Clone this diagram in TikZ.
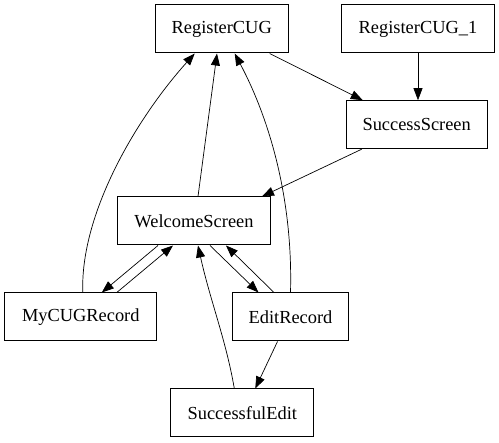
\documentclass[tikz,border=0pt]{standalone}
\usepackage{fontspec}
\setmainfont{Liberation Serif}
\usetikzlibrary{arrows.meta}

\begin{document}
\begin{tikzpicture}[x=1pt, y=-1pt,
        state/.style={draw, line width=1pt, minimum height=48pt, inner xsep=4pt,
            font=\fontsize{18.4}{22}\selectfont},
        edge/.style={line width=0.7pt, -{Triangle[length=12pt, width=9pt]}}]
        \useasboundingbox (0,0) rectangle (499,443);

        \node[state, minimum width=133pt] (reg) at (221.7,29) {RegisterCUG};
        \node[state, minimum width=153pt] (reg1) at (418,29) {RegisterCUG\_1};
        \node[state, minimum width=141pt] (succ) at (416.7,124.7) {SuccessScreen};
        \node[state, minimum width=153pt] (welcome) at (194,221) {WelcomeScreen};
        \node[state, minimum width=152pt] (mycug) at (80.8,317) {MyCUGRecord};
        \node[state, minimum width=116pt] (edit) at (290.5,317) {EditRecord};
        \node[state, minimum width=143pt] (sedit) at (242.3,413) {SuccessfulEdit};

        % top part
        \draw[edge] ([xshift=48pt]reg.south) -- ([xshift=-54pt]succ.north);
        \draw[edge] (reg1.south) -- (reg1.south |- succ.north);
        \draw[edge] ([xshift=-55pt]succ.south) -- ([xshift=68pt]welcome.north);
        \draw[edge] ([xshift=4pt]welcome.north) -- ([xshift=-4.7pt]reg.south);
        \draw[edge] ([xshift=2pt]mycug.north) .. controls (80,215) and (135,120) .. ([xshift=-27pt]reg.south);
        \draw[edge] (edit.north) .. controls (293,200) and (270,120) .. ([xshift=13pt]reg.south);

        % around the welcome screen
        \draw[edge] ([xshift=36pt]mycug.north) -- ([xshift=-21pt]welcome.south);
        \draw[edge] ([xshift=-36pt]welcome.south) -- ([xshift=21pt]mycug.north);
        \draw[edge] ([xshift=16pt]welcome.south) -- ([xshift=-32pt]edit.north);
        \draw[edge] ([xshift=-16.5pt]edit.north) -- ([xshift=32pt]welcome.south);
        \draw[edge] ([xshift=-13pt]edit.south) -- ([xshift=13pt]sedit.north);
        \draw[edge] ([xshift=-8pt]sedit.north) .. controls (226,340) and (210,300) .. ([xshift=4pt]welcome.south);
    \end{tikzpicture}
\end{document}
